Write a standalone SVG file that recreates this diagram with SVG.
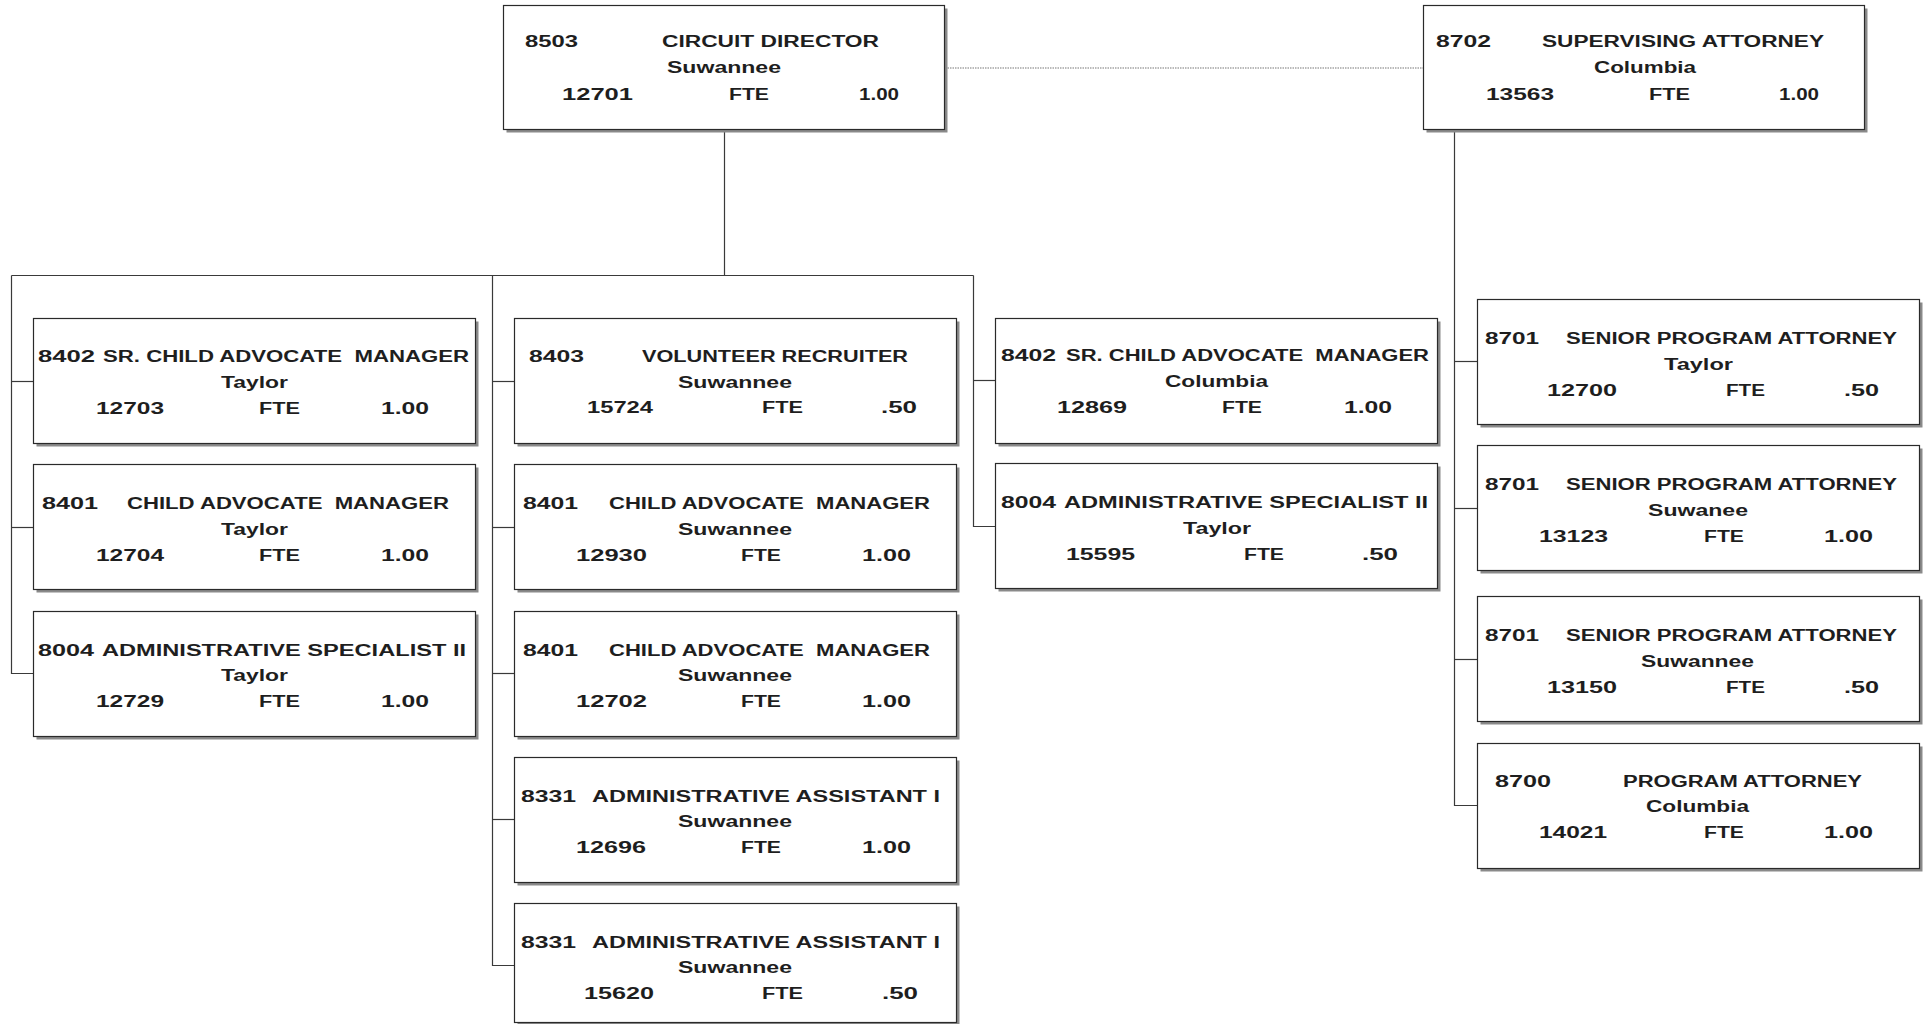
<svg xmlns="http://www.w3.org/2000/svg" width="1927" height="1024" viewBox="0 0 1927 1024">
<style>
.bg{fill:#ffffff}
.sh{fill:#8a8a8a}
.bx{fill:#ffffff;stroke:#2a2a2a;stroke-width:1.2}
.ln{stroke:#3a3a3a;stroke-width:1.2;fill:none}
.dot{stroke:#777;stroke-width:1.2;stroke-dasharray:1.5 1;fill:none}
text{font-family:"Liberation Sans",Arial,sans-serif;font-weight:bold;font-size:16px;fill:#1e1e1e;white-space:pre}
</style>
<defs>
<g id="box"><rect class="sh" x="3" y="3" width="442" height="125"/><rect class="bx" x="0" y="0" width="442" height="125"/></g>
</defs>
<rect class="bg" x="0" y="0" width="1927" height="1024"/>
<g id="connectors">
<line class="dot" x1="945" y1="68" x2="1423" y2="68"/>
<line class="ln" x1="724.5" y1="130" x2="724.5" y2="275.5"/>
<line class="ln" x1="11.5" y1="275.5" x2="973.5" y2="275.5"/>
<polyline class="ln" points="11.5,275.5 11.5,673.5 33,673.5"/>
<line class="ln" x1="11.5" y1="381.5" x2="33" y2="381.5"/>
<line class="ln" x1="11.5" y1="527.5" x2="33" y2="527.5"/>
<polyline class="ln" points="492.5,275.5 492.5,965.5 514,965.5"/>
<line class="ln" x1="492.5" y1="381.5" x2="514" y2="381.5"/>
<line class="ln" x1="492.5" y1="527.5" x2="514" y2="527.5"/>
<line class="ln" x1="492.5" y1="673.5" x2="514" y2="673.5"/>
<line class="ln" x1="492.5" y1="819.5" x2="514" y2="819.5"/>
<polyline class="ln" points="973.5,275.5 973.5,526.5 995,526.5"/>
<line class="ln" x1="973.5" y1="380.5" x2="995" y2="380.5"/>
<polyline class="ln" points="1454.5,130 1454.5,805.5 1477,805.5"/>
<line class="ln" x1="1454.5" y1="361.5" x2="1477" y2="361.5"/>
<line class="ln" x1="1454.5" y1="508.5" x2="1477" y2="508.5"/>
<line class="ln" x1="1454.5" y1="659.5" x2="1477" y2="659.5"/>
</g>
<g id="n8503">
<rect class="sh" x="506.5" y="8.5" width="441" height="124"/><rect class="bx" x="503.5" y="5.5" width="441" height="124"/>
<text x="525" y="47" textLength="53" lengthAdjust="spacingAndGlyphs">8503</text>
<text x="662" y="47" textLength="217" lengthAdjust="spacingAndGlyphs">CIRCUIT DIRECTOR</text>
<text x="667" y="73" textLength="114" lengthAdjust="spacingAndGlyphs">Suwannee</text>
<text x="562" y="100" textLength="71" lengthAdjust="spacingAndGlyphs">12701</text>
<text x="729" y="100" textLength="40" lengthAdjust="spacingAndGlyphs">FTE</text>
<text x="859" y="100" textLength="40" lengthAdjust="spacingAndGlyphs">1.00</text>
</g>
<g id="n8702">
<rect class="sh" x="1426.5" y="8.5" width="441" height="124"/><rect class="bx" x="1423.5" y="5.5" width="441" height="124"/>
<text x="1436" y="47" textLength="55" lengthAdjust="spacingAndGlyphs">8702</text>
<text x="1542" y="47" textLength="282" lengthAdjust="spacingAndGlyphs">SUPERVISING ATTORNEY</text>
<text x="1594" y="73" textLength="102" lengthAdjust="spacingAndGlyphs">Columbia</text>
<text x="1486" y="100" textLength="68" lengthAdjust="spacingAndGlyphs">13563</text>
<text x="1649" y="100" textLength="41" lengthAdjust="spacingAndGlyphs">FTE</text>
<text x="1779" y="100" textLength="40" lengthAdjust="spacingAndGlyphs">1.00</text>
</g>
<g id="a1">
<use href="#box" x="33.5" y="318.5"/>
<text x="38" y="362" textLength="57" lengthAdjust="spacingAndGlyphs">8402</text>
<text x="103" y="362" textLength="366" lengthAdjust="spacingAndGlyphs">SR. CHILD ADVOCATE  MANAGER</text>
<text x="221" y="388" textLength="67" lengthAdjust="spacingAndGlyphs">Taylor</text>
<text x="96" y="414" textLength="68" lengthAdjust="spacingAndGlyphs">12703</text>
<text x="259" y="414" textLength="41" lengthAdjust="spacingAndGlyphs">FTE</text>
<text x="381" y="414" textLength="48" lengthAdjust="spacingAndGlyphs">1.00</text>
</g>
<g id="a2">
<use href="#box" x="33.5" y="464.5"/>
<text x="42" y="509" textLength="56" lengthAdjust="spacingAndGlyphs">8401</text>
<text x="127" y="509" textLength="322" lengthAdjust="spacingAndGlyphs">CHILD ADVOCATE  MANAGER</text>
<text x="221" y="535" textLength="67" lengthAdjust="spacingAndGlyphs">Taylor</text>
<text x="96" y="561" textLength="68" lengthAdjust="spacingAndGlyphs">12704</text>
<text x="259" y="561" textLength="41" lengthAdjust="spacingAndGlyphs">FTE</text>
<text x="381" y="561" textLength="48" lengthAdjust="spacingAndGlyphs">1.00</text>
</g>
<g id="a3">
<use href="#box" x="33.5" y="611.5"/>
<text x="38" y="656" textLength="56" lengthAdjust="spacingAndGlyphs">8004</text>
<text x="102" y="656" textLength="364" lengthAdjust="spacingAndGlyphs">ADMINISTRATIVE SPECIALIST II</text>
<text x="221" y="681" textLength="67" lengthAdjust="spacingAndGlyphs">Taylor</text>
<text x="96" y="707" textLength="68" lengthAdjust="spacingAndGlyphs">12729</text>
<text x="259" y="707" textLength="41" lengthAdjust="spacingAndGlyphs">FTE</text>
<text x="381" y="707" textLength="48" lengthAdjust="spacingAndGlyphs">1.00</text>
</g>
<g id="b1">
<use href="#box" x="514.5" y="318.5"/>
<text x="529" y="362" textLength="55" lengthAdjust="spacingAndGlyphs">8403</text>
<text x="642" y="362" textLength="266" lengthAdjust="spacingAndGlyphs">VOLUNTEER RECRUITER</text>
<text x="678" y="388" textLength="114" lengthAdjust="spacingAndGlyphs">Suwannee</text>
<text x="587" y="413" textLength="66" lengthAdjust="spacingAndGlyphs">15724</text>
<text x="762" y="413" textLength="41" lengthAdjust="spacingAndGlyphs">FTE</text>
<text x="881" y="413" textLength="36" lengthAdjust="spacingAndGlyphs">.50</text>
</g>
<g id="b2">
<use href="#box" x="514.5" y="464.5"/>
<text x="523" y="509" textLength="55" lengthAdjust="spacingAndGlyphs">8401</text>
<text x="609" y="509" textLength="321" lengthAdjust="spacingAndGlyphs">CHILD ADVOCATE  MANAGER</text>
<text x="678" y="535" textLength="114" lengthAdjust="spacingAndGlyphs">Suwannee</text>
<text x="576" y="561" textLength="71" lengthAdjust="spacingAndGlyphs">12930</text>
<text x="741" y="561" textLength="40" lengthAdjust="spacingAndGlyphs">FTE</text>
<text x="862" y="561" textLength="49" lengthAdjust="spacingAndGlyphs">1.00</text>
</g>
<g id="b3">
<use href="#box" x="514.5" y="611.5"/>
<text x="523" y="656" textLength="55" lengthAdjust="spacingAndGlyphs">8401</text>
<text x="609" y="656" textLength="321" lengthAdjust="spacingAndGlyphs">CHILD ADVOCATE  MANAGER</text>
<text x="678" y="681" textLength="114" lengthAdjust="spacingAndGlyphs">Suwannee</text>
<text x="576" y="707" textLength="71" lengthAdjust="spacingAndGlyphs">12702</text>
<text x="741" y="707" textLength="40" lengthAdjust="spacingAndGlyphs">FTE</text>
<text x="862" y="707" textLength="49" lengthAdjust="spacingAndGlyphs">1.00</text>
</g>
<g id="b4">
<use href="#box" x="514.5" y="757.5"/>
<text x="521" y="802" textLength="55" lengthAdjust="spacingAndGlyphs">8331</text>
<text x="592" y="802" textLength="348" lengthAdjust="spacingAndGlyphs">ADMINISTRATIVE ASSISTANT I</text>
<text x="678" y="827" textLength="114" lengthAdjust="spacingAndGlyphs">Suwannee</text>
<text x="576" y="853" textLength="70" lengthAdjust="spacingAndGlyphs">12696</text>
<text x="741" y="853" textLength="40" lengthAdjust="spacingAndGlyphs">FTE</text>
<text x="862" y="853" textLength="49" lengthAdjust="spacingAndGlyphs">1.00</text>
</g>
<g id="b5">
<rect class="sh" x="517.5" y="906.5" width="442" height="119"/><rect class="bx" x="514.5" y="903.5" width="442" height="119"/>
<text x="521" y="948" textLength="55" lengthAdjust="spacingAndGlyphs">8331</text>
<text x="592" y="948" textLength="348" lengthAdjust="spacingAndGlyphs">ADMINISTRATIVE ASSISTANT I</text>
<text x="678" y="973" textLength="114" lengthAdjust="spacingAndGlyphs">Suwannee</text>
<text x="584" y="999" textLength="70" lengthAdjust="spacingAndGlyphs">15620</text>
<text x="762" y="999" textLength="41" lengthAdjust="spacingAndGlyphs">FTE</text>
<text x="882" y="999" textLength="36" lengthAdjust="spacingAndGlyphs">.50</text>
</g>
<g id="c1">
<use href="#box" x="995.5" y="318.5"/>
<text x="1001" y="361" textLength="55" lengthAdjust="spacingAndGlyphs">8402</text>
<text x="1066" y="361" textLength="363" lengthAdjust="spacingAndGlyphs">SR. CHILD ADVOCATE  MANAGER</text>
<text x="1165" y="387" textLength="103" lengthAdjust="spacingAndGlyphs">Columbia</text>
<text x="1057" y="413" textLength="70" lengthAdjust="spacingAndGlyphs">12869</text>
<text x="1222" y="413" textLength="40" lengthAdjust="spacingAndGlyphs">FTE</text>
<text x="1344" y="413" textLength="48" lengthAdjust="spacingAndGlyphs">1.00</text>
</g>
<g id="c2">
<use href="#box" x="995.5" y="463.5"/>
<text x="1001" y="508" textLength="55" lengthAdjust="spacingAndGlyphs">8004</text>
<text x="1064" y="508" textLength="364" lengthAdjust="spacingAndGlyphs">ADMINISTRATIVE SPECIALIST II</text>
<text x="1183" y="534" textLength="68" lengthAdjust="spacingAndGlyphs">Taylor</text>
<text x="1066" y="560" textLength="69" lengthAdjust="spacingAndGlyphs">15595</text>
<text x="1244" y="560" textLength="40" lengthAdjust="spacingAndGlyphs">FTE</text>
<text x="1362" y="560" textLength="36" lengthAdjust="spacingAndGlyphs">.50</text>
</g>
<g id="d1">
<use href="#box" x="1477.5" y="299.5"/>
<text x="1485" y="344" textLength="54" lengthAdjust="spacingAndGlyphs">8701</text>
<text x="1566" y="344" textLength="331" lengthAdjust="spacingAndGlyphs">SENIOR PROGRAM ATTORNEY</text>
<text x="1664" y="370" textLength="69" lengthAdjust="spacingAndGlyphs">Taylor</text>
<text x="1547" y="396" textLength="70" lengthAdjust="spacingAndGlyphs">12700</text>
<text x="1726" y="396" textLength="39" lengthAdjust="spacingAndGlyphs">FTE</text>
<text x="1844" y="396" textLength="35" lengthAdjust="spacingAndGlyphs">.50</text>
</g>
<g id="d2">
<use href="#box" x="1477.5" y="445.5"/>
<text x="1485" y="490" textLength="54" lengthAdjust="spacingAndGlyphs">8701</text>
<text x="1566" y="490" textLength="331" lengthAdjust="spacingAndGlyphs">SENIOR PROGRAM ATTORNEY</text>
<text x="1648" y="516" textLength="100" lengthAdjust="spacingAndGlyphs">Suwanee</text>
<text x="1539" y="542" textLength="69" lengthAdjust="spacingAndGlyphs">13123</text>
<text x="1704" y="542" textLength="40" lengthAdjust="spacingAndGlyphs">FTE</text>
<text x="1824" y="542" textLength="49" lengthAdjust="spacingAndGlyphs">1.00</text>
</g>
<g id="d3">
<use href="#box" x="1477.5" y="596.5"/>
<text x="1485" y="641" textLength="54" lengthAdjust="spacingAndGlyphs">8701</text>
<text x="1566" y="641" textLength="331" lengthAdjust="spacingAndGlyphs">SENIOR PROGRAM ATTORNEY</text>
<text x="1641" y="667" textLength="113" lengthAdjust="spacingAndGlyphs">Suwannee</text>
<text x="1547" y="693" textLength="70" lengthAdjust="spacingAndGlyphs">13150</text>
<text x="1726" y="693" textLength="39" lengthAdjust="spacingAndGlyphs">FTE</text>
<text x="1844" y="693" textLength="35" lengthAdjust="spacingAndGlyphs">.50</text>
</g>
<g id="d4">
<use href="#box" x="1477.5" y="743.5"/>
<text x="1495" y="787" textLength="56" lengthAdjust="spacingAndGlyphs">8700</text>
<text x="1623" y="787" textLength="239" lengthAdjust="spacingAndGlyphs">PROGRAM ATTORNEY</text>
<text x="1646" y="812" textLength="103" lengthAdjust="spacingAndGlyphs">Columbia</text>
<text x="1539" y="838" textLength="68" lengthAdjust="spacingAndGlyphs">14021</text>
<text x="1704" y="838" textLength="40" lengthAdjust="spacingAndGlyphs">FTE</text>
<text x="1824" y="838" textLength="49" lengthAdjust="spacingAndGlyphs">1.00</text>
</g>
</svg>
